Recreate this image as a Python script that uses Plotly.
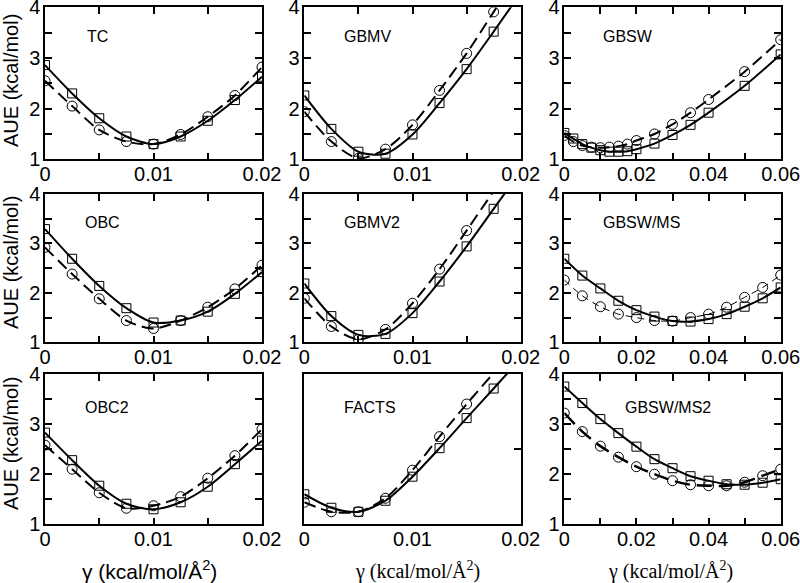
import plotly.graph_objects as go

# ---------------- data ----------------
G_A = [0, 0.0025, 0.005, 0.0075, 0.01, 0.0125, 0.015, 0.0175, 0.02]
G_B8 = [0, 0.0025, 0.005, 0.0075, 0.01, 0.0125, 0.015, 0.0175]
G_B7 = [0, 0.0025, 0.005, 0.0075, 0.01, 0.0125, 0.015]
G_GBSW = [0, 0.0025, 0.005, 0.0075, 0.01, 0.0125, 0.015, 0.0175, 0.02,
          0.025, 0.03, 0.035, 0.04, 0.05, 0.06]
G_MS = [0, 0.005, 0.01, 0.015, 0.02, 0.025, 0.03, 0.035, 0.04, 0.045,
        0.05, 0.055, 0.06]

TC_SQ = [2.86, 2.30, 1.81, 1.45, 1.30, 1.45, 1.76, 2.17, 2.63]
TC_CI = [2.55, 2.05, 1.58, 1.35, 1.30, 1.49, 1.84, 2.26, 2.82]

OBC_SQ = [3.29, 2.69, 2.14, 1.69, 1.40, 1.44, 1.62, 1.98, 2.42]
OBC_CI = [2.92, 2.38, 1.88, 1.44, 1.28, 1.44, 1.71, 2.08, 2.56]

OBC2_SQ = [2.83, 2.28, 1.77, 1.41, 1.30, 1.44, 1.75, 2.20, 2.67]
OBC2_CI = [2.58, 2.10, 1.63, 1.32, 1.37, 1.55, 1.92, 2.37, 2.90]

GBMV_SQ = [2.26, 1.60, 1.15, 1.11, 1.49, 2.11, 2.78, 3.52]
GBMV_CI = [1.94, 1.35, 1.02, 1.20, 1.68, 2.36, 3.09, 3.91]
GBMV_SQ_TAIL_X, GBMV_SQ_TAIL = [0.02], [4.28]
GBMV_CI_TAIL_X, GBMV_CI_TAIL = [0.02], [4.73]

GBMV2_SQ = [2.19, 1.53, 1.15, 1.17, 1.59, 2.23, 2.94, 3.70]
GBMV2_CI = [1.89, 1.32, 1.06, 1.26, 1.79, 2.48, 3.26]
GBMV2_SQ_TAIL_X, GBMV2_SQ_TAIL = [0.02], [4.46]
GBMV2_CI_TAIL_X, GBMV2_CI_TAIL = [0.0175, 0.02], [4.06, 4.86]

FACTS_SQ = [1.60, 1.33, 1.25, 1.47, 1.95, 2.52, 3.12, 3.71]
FACTS_CI = [1.44, 1.25, 1.25, 1.52, 2.08, 2.75, 3.40]
FACTS_SQ_TAIL_X, FACTS_SQ_TAIL = [0.02], [4.31]
FACTS_CI_TAIL_X, FACTS_CI_TAIL = [0.0175, 0.02], [4.02, 4.65]

GBSW_SQ = [1.52, 1.41, 1.30, 1.23, 1.18, 1.15, 1.15, 1.16, 1.20, 1.31, 1.48,
           1.68, 1.92, 2.45, 3.07]
GBSW_CI = [1.47, 1.35, 1.27, 1.24, 1.23, 1.24, 1.26, 1.30, 1.37, 1.50, 1.69,
           1.92, 2.18, 2.73, 3.36]

MS_SQ = [2.69, 2.35, 2.09, 1.84, 1.65, 1.52, 1.43, 1.42, 1.47, 1.57, 1.72,
         1.89, 2.11]
MS_CI = [2.26, 1.94, 1.72, 1.57, 1.50, 1.44, 1.43, 1.50, 1.57, 1.71, 1.91,
         2.11, 2.36]

MS2_SQ = [3.75, 3.42, 3.10, 2.82, 2.55, 2.30, 2.12, 1.96, 1.87, 1.80, 1.79,
          1.83, 1.90]
MS2_CI = [3.22, 2.85, 2.56, 2.34, 2.15, 2.00, 1.87, 1.79, 1.77, 1.77, 1.84,
          1.97, 2.10]

LABELS = ["TC", "GBMV", "GBSW", "OBC", "GBMV2", "GBSW/MS",
          "OBC2", "FACTS", "GBSW/MS2"]
Y_TICKS = [1, 2, 3, 4]

# panels: (x_sq, y_sq, tailx_sq, taily_sq, x_ci, y_ci, tailx_ci, taily_ci)
PANELS = [
    (G_A, TC_SQ, [], [], G_A, TC_CI, [], []),
    (G_B8, GBMV_SQ, GBMV_SQ_TAIL_X, GBMV_SQ_TAIL, G_B8, GBMV_CI, GBMV_CI_TAIL_X, GBMV_CI_TAIL),
    (G_GBSW, GBSW_SQ, [], [], G_GBSW, GBSW_CI, [], []),
    (G_A, OBC_SQ, [], [], G_A, OBC_CI, [], []),
    (G_B8, GBMV2_SQ, GBMV2_SQ_TAIL_X, GBMV2_SQ_TAIL, G_B7, GBMV2_CI, GBMV2_CI_TAIL_X, GBMV2_CI_TAIL),
    (G_MS, MS_SQ, [], [], G_MS, MS_CI, [], []),
    (G_A, OBC2_SQ, [], [], G_A, OBC2_CI, [], []),
    (G_B8, FACTS_SQ, FACTS_SQ_TAIL_X, FACTS_SQ_TAIL, G_B7, FACTS_CI, FACTS_CI_TAIL_X, FACTS_CI_TAIL),
    (G_MS, MS2_SQ, [], [], G_MS, MS2_CI, [], []),
]

# ---------------- layout geometry ----------------
W, H = 800, 583
COLS = [(45, 262), (304.3, 520.7), (564.3, 780.7)]
ROWS = [(7.3, 159.3), (194.0, 342.3), (374.0, 524.3)]
LABEL_POS = [(0.244, 0.81), (0.29, 0.81), (0.294, 0.805),
             (0.267, 0.81), (0.313, 0.81), (0.359, 0.81),
             (0.286, 0.78), (0.304, 0.78), (0.479, 0.78)]

SANS = "Liberation Sans, Arial, sans-serif"
SERIF = "Liberation Serif, Times New Roman, serif"

fig = go.Figure()
layout = dict(
    width=W, height=H, margin=dict(l=0, r=0, t=0, b=0),
    paper_bgcolor="white", plot_bgcolor="white", showlegend=False,
    template="none",
)

annotations = []
for i, (xs, ys, txs, tys, xc, yc, txc, tyc) in enumerate(PANELS):
    r, c = divmod(i, 3)
    n = i + 1
    xa = "x" if n == 1 else f"x{n}"
    ya = "y" if n == 1 else f"y{n}"
    col3 = (c == 2)
    xmax = 0.06 if col3 else 0.02
    dash_ci = "12px,6px"
    w_ci = 2
    if LABELS[i] == "GBSW/MS":
        dash_ci, w_ci = "7px,5px", 1
    if LABELS[i] == "GBSW/MS2":
        dash_ci, w_ci = "15px,7px", 2.5
    # lines
    fig.add_trace(go.Scatter(x=list(xc) + list(txc), y=list(yc) + list(tyc), mode="lines",
                             line=dict(color="black", width=w_ci, dash=dash_ci,
                                       shape="spline", smoothing=0.8),
                             xaxis=xa, yaxis=ya, hoverinfo="skip"))
    fig.add_trace(go.Scatter(x=list(xs) + list(txs), y=list(ys) + list(tys), mode="lines",
                             line=dict(color="black", width=2, shape="spline", smoothing=0.8),
                             xaxis=xa, yaxis=ya, hoverinfo="skip"))
    # markers
    fig.add_trace(go.Scatter(x=xc, y=yc, mode="markers",
                             marker=dict(symbol="circle-open", size=10, color="black",
                                         line=dict(width=1, color="black")),
                             xaxis=xa, yaxis=ya))
    fig.add_trace(go.Scatter(x=xs, y=ys, mode="markers",
                             marker=dict(symbol="square-open", size=9, color="black",
                                         line=dict(width=1, color="black")),
                             xaxis=xa, yaxis=ya))

    x0, x1 = COLS[c]
    yt, yb = ROWS[r]
    common = dict(showline=True, linecolor="black", linewidth=1.5,
                  ticks="inside", ticklen=7, tickwidth=1.5, tickcolor="black",
                  showgrid=False, zeroline=False, automargin=False,
                  ticklabeloverflow="allow",
                  tickfont=dict(family=SANS, size=20, color="black"))
    xaxis = dict(common, domain=[x0 / W, x1 / W], anchor=ya, range=[0, xmax],
                 tickvals=[0, xmax / 2, xmax] if not col3 else [0, 0.02, 0.04, 0.06],
                 mirror="ticks", ticklabelstandoff=-4,
                 minor=dict(ticks="inside", ticklen=7, tickwidth=1.5, tickcolor="black",
                            dtick=(0.005 if not col3 else 0.01), tick0=0, showgrid=False))
    yaxis = dict(common, domain=[1 - yb / H, 1 - yt / H], anchor=xa, range=[1, 4],
                 tickvals=Y_TICKS, mirror="ticks", ticklabelstandoff=-1,
                 minor=dict(ticks="inside", ticklen=7, tickwidth=1.5, tickcolor="black",
                            dtick=0.5, tick0=1, showgrid=False))
    if LABELS[i] == "FACTS":
        xaxis.update(ticks="", mirror=True, minor=dict(ticks=""))
        yaxis.update(side="right", tickvals=[2.5], showticklabels=False, mirror=True,
                     minor=dict(ticks=""))
        layout["xaxis10"] = dict(overlaying="x8", side="top", anchor="y8", range=[0, 0.02],
                                 tickvals=[0.005, 0.01, 0.015], ticks="inside", ticklen=7,
                                 tickwidth=1.5, tickcolor="black", showticklabels=False,
                                 showline=False, showgrid=False, zeroline=False)
    layout["xaxis" if n == 1 else f"xaxis{n}"] = xaxis
    layout["yaxis" if n == 1 else f"yaxis{n}"] = yaxis

    lx, ly = LABEL_POS[i]
    annotations.append(dict(text=LABELS[i], x=lx, y=ly, xref=f"{xa} domain", yref=f"{ya} domain",
                            showarrow=False, xanchor="center", yanchor="middle",
                            font=dict(family=SANS, size=16, color="black")))

# y-axis titles (left column)
for yc_px in [81, 263, 444]:
    annotations.append(dict(text="AUE (kcal/mol)", x=11 / W, y=1 - yc_px / H, xref="paper", yref="paper",
                            showarrow=False, textangle=-90, xanchor="center", yanchor="middle",
                            font=dict(family=SANS, size=20, color="black")))
# x-axis titles (bottom row)
for xc_px, fam, sz in [(149, SANS, 21), (417, SERIF, 20), (670, SERIF, 20)]:
    annotations.append(dict(text="γ (kcal/mol/Å<sup>2</sup>)", x=xc_px / W, y=1 - 570 / H,
                            xref="paper", yref="paper", showarrow=False,
                            xanchor="center", yanchor="middle",
                            font=dict(family=fam, size=sz, color="black")))

layout["annotations"] = annotations
fig.update_layout(**layout)
fig.write_html("out.html", config={"displayModeBar": False},
               post_script="document.body.style.margin='0px';document.body.style.overflow='hidden';")
